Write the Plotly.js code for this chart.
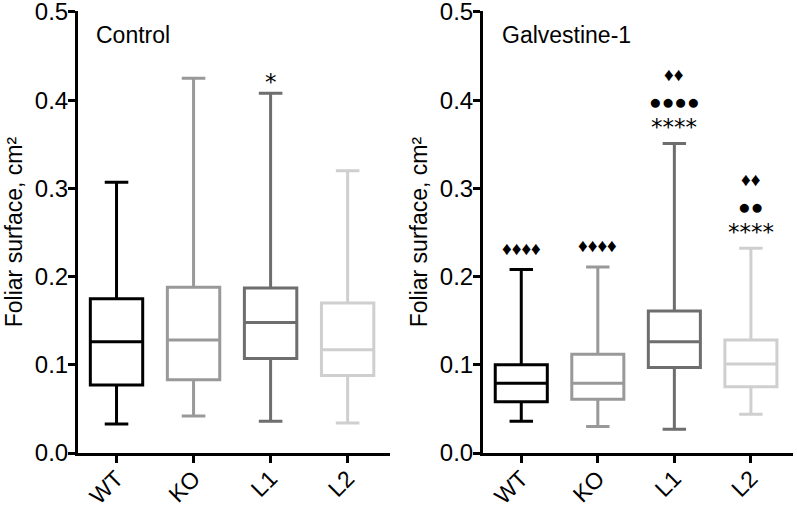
<!DOCTYPE html>
<html>
<head>
<meta charset="utf-8">
<script src="https://cdn.plot.ly/plotly-3.0.1.min.js"></script>
<style>html,body{margin:0;padding:0;background:#fff;}#chart{width:797px;height:508px;}</style>
</head>
<body>
<div id="chart"></div>
<script>
// ---- data ----
const categories = ['WT', 'KO', 'L1', 'L2'];
const colors = ['#000000', '#999999', '#6e6e6e', '#cfcfcf'];
const yTicks = [0.0, 0.1, 0.2, 0.3, 0.4, 0.5];
const yTickText = ['0.0', '0.1', '0.2', '0.3', '0.4', '0.5'];

// Control panel (box stats)
const ctrlLower  = [0.033, 0.042, 0.036, 0.034];
const ctrlQ1     = [0.077, 0.083, 0.107, 0.088];
const ctrlMedian = [0.126, 0.128, 0.148, 0.117];
const ctrlQ3     = [0.175, 0.188, 0.187, 0.170];
const ctrlUpper  = [0.307, 0.425, 0.408, 0.320];

// Galvestine-1 panel (box stats)
const galvLower  = [0.036, 0.030, 0.027, 0.044];
const galvQ1     = [0.058, 0.061, 0.097, 0.075];
const galvMedian = [0.079, 0.079, 0.126, 0.101];
const galvQ3     = [0.100, 0.112, 0.161, 0.128];
const galvUpper  = [0.208, 0.211, 0.351, 0.232];

// significance marks
const ctrlStars    = ['', '', '*', ''];
const galvStars    = ['', '', '****', '****'];
const galvDots     = ['', '', '●●●●', '●●'];
const galvDiamonds = ['♦♦♦♦', '♦♦♦♦', '♦♦', '♦♦'];

const panelTitles = ['Control', 'Galvestine-1'];
const yTitle = 'Foliar surface, cm²';

// ---- build ----
const FONT = '"Liberation Sans", Arial, sans-serif';
const STARFONT = '"DejaVu Sans", sans-serif';
const traces = [];
function addPanel(lower, q1, med, q3, upper, xa, ya) {
  categories.forEach((c, i) => {
    traces.push({
      type: 'box', x: [c], q1: [q1[i]], median: [med[i]], q3: [q3[i]],
      lowerfence: [lower[i]], upperfence: [upper[i]],
      xaxis: xa, yaxis: ya,
      line: {color: colors[i], width: 3},
      fillcolor: 'rgba(255,255,255,0)',
      width: 0.68, whiskerwidth: 0.45,
      boxpoints: false, showlegend: false, hoverinfo: 'skip'
    });
  });
}
addPanel(ctrlLower, ctrlQ1, ctrlMedian, ctrlQ3, ctrlUpper, 'x', 'y');
addPanel(galvLower, galvQ1, galvMedian, galvQ3, galvUpper, 'x2', 'y2');

const annotations = [];
function mark(text, xa, ya, cat, yv, shift, font, size) {
  if (!text) return;
  annotations.push({text: text, xref: xa, yref: ya, x: cat, y: yv, yshift: shift,
    showarrow: false, font: {family: font, size: size, color: '#000'}, xanchor: 'center', yanchor: 'middle'});
}
categories.forEach((c, i) => {
  mark(ctrlStars[i], 'x', 'y', c, ctrlUpper[i], 11, STARFONT, 23);
  let row = 0;
  const rowShift = [16, 42, 69];
  if (galvStars[i]) { mark(galvStars[i], 'x2', 'y2', c, galvUpper[i], rowShift[0], STARFONT, 23); row = 1; }
  if (galvDots[i]) { mark(galvDots[i], 'x2', 'y2', c, galvUpper[i], rowShift[1], FONT, 21); row = 2; }
  mark(galvDiamonds[i], 'x2', 'y2', c, galvUpper[i], row === 0 ? 21 : rowShift[2], FONT, 19);
});
annotations.push({text: panelTitles[0], xref: 'paper', yref: 'paper', x: 94/797, y: 1 - 35/508,
  xanchor: 'left', yanchor: 'middle', showarrow: false, font: {family: FONT, size: 23, color: '#000'}});
annotations.push({text: panelTitles[1], xref: 'paper', yref: 'paper', x: 500/797, y: 1 - 35/508,
  xanchor: 'left', yanchor: 'middle', showarrow: false, font: {family: FONT, size: 23, color: '#000'}});

function xAxis(dom, anchor) {
  return {domain: dom, anchor: anchor, type: 'category', categoryorder: 'array', categoryarray: categories,
    range: [-0.5, 3.55], showline: true, linecolor: '#000', linewidth: 3, ticks: 'outside', ticklen: 7,
    tickwidth: 3, tickcolor: '#000', tickangle: -45, ticklabelstandoff: -7, ticklabeloverflow: 'allow',
    showgrid: false, zeroline: false,
    tickfont: {family: FONT, size: 23, color: '#000'}, fixedrange: true};
}
function yAxis(dom, anchor) {
  return {domain: dom, anchor: anchor, range: [0, 0.501], tickmode: 'array', tickvals: yTicks, ticktext: yTickText,
    showline: true, linecolor: '#000', linewidth: 3, ticks: 'outside', ticklen: 7, tickwidth: 3,
    tickcolor: '#000', ticklabelstandoff: -5, ticklabeloverflow: 'allow', showgrid: false, zeroline: false,
    tickfont: {family: FONT, size: 24, color: '#000'},
    title: {text: yTitle, font: {family: FONT, size: 23, color: '#000'}, standoff: 6}, fixedrange: true};
}
const yDom = [55/508, 496.9/508];
const layout = {
  width: 797, height: 508, margin: {l: 0, r: 0, t: 0, b: 0},
  paper_bgcolor: '#fff', plot_bgcolor: '#fff', boxmode: 'overlay', showlegend: false,
  xaxis: xAxis([78/797, 390/797], 'y'),
  yaxis: yAxis(yDom, 'x'),
  xaxis2: xAxis([483/797, 793/797], 'y2'),
  yaxis2: yAxis(yDom, 'x2'),
  annotations: annotations
};
Plotly.newPlot('chart', traces, layout, {displayModeBar: false, staticPlot: true});
</script>
</body>
</html>
